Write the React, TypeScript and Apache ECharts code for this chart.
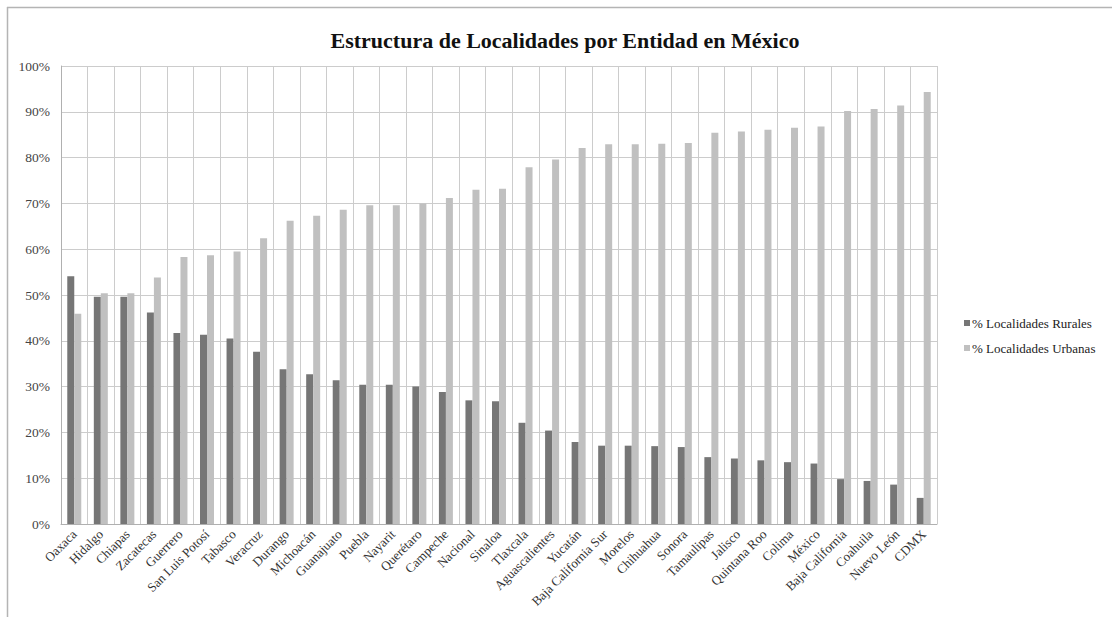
import React, { useEffect, useRef } from "react";
import * as echarts from "echarts";

const categories = [
  "Oaxaca", "Hidalgo", "Chiapas", "Zacatecas", "Guerrero", "San Luis Potosí", "Tabasco",
  "Veracruz", "Durango", "Michoacán", "Guanajuato", "Puebla", "Nayarit", "Querétaro",
  "Campeche", "Nacional", "Sinaloa", "Tlaxcala", "Aguascalientes", "Yucatán",
  "Baja California Sur", "Morelos", "Chihuahua", "Sonora", "Tamaulipas", "Jalisco",
  "Quintana Roo", "Colima", "México", "Baja California", "Coahuila", "Nuevo León", "CDMX",
];

const rurales = [
  54.1, 49.6, 49.6, 46.2, 41.7, 41.3, 40.5, 37.6, 33.8, 32.7, 31.4, 30.4, 30.4, 30.0,
  28.8, 27.0, 26.8, 22.1, 20.4, 17.9, 17.1, 17.1, 17.0, 16.8, 14.6, 14.3, 13.9, 13.5,
  13.2, 9.8, 9.4, 8.6, 5.7,
];

const urbanas = [
  45.9, 50.4, 50.4, 53.8, 58.3, 58.7, 59.5, 62.4, 66.2, 67.3, 68.6, 69.6, 69.6, 70.0,
  71.2, 73.0, 73.2, 77.9, 79.6, 82.1, 82.9, 82.9, 83.0, 83.2, 85.4, 85.7, 86.1, 86.5,
  86.8, 90.2, 90.6, 91.4, 94.3,
];

const seriesNames = ["% Localidades Rurales", "% Localidades Urbanas"];
const seriesColors = ["#767676", "#c0c0c0"];
const title = "Estructura de Localidades por Entidad en México";

const serif = "Liberation Serif";

export default function App() {
  const ref = useRef<HTMLDivElement>(null);
  useEffect(() => {
    if (!ref.current) return;
    const chart = echarts.init(ref.current, undefined, { renderer: "svg" });
    chart.setOption({
      animation: false,
      backgroundColor: "#ffffff",
      textStyle: { fontFamily: serif },
      title: {
        text: title,
        left: 560,
        textAlign: "center",
        top: 24,
        textStyle: { fontFamily: serif, fontSize: 22, fontWeight: "bold", color: "#111" },
      },
      legend: { show: false, data: seriesNames },
      grid: { left: 61, right: 175, top: 66, bottom: 93, containLabel: false },
      xAxis: {
        type: "category",
        data: categories,
        axisLine: { show: true, lineStyle: { color: "#b0b0b0", width: 1 } },
        axisTick: { show: false },
        splitLine: { show: true, lineStyle: { color: "#cccccc", width: 1 } },
        axisLabel: {
          interval: 0,
          rotate: 45,
          margin: 8,
          fontFamily: serif,
          fontSize: 13,
          color: "#333",
        },
      },
      yAxis: {
        type: "value",
        min: 0,
        max: 100,
        interval: 10,
        axisLine: { show: true, lineStyle: { color: "#b0b0b0", width: 1 } },
        axisTick: { show: false },
        splitLine: { show: true, lineStyle: { color: "#cccccc", width: 1 } },
        axisLabel: {
          formatter: "{value}%",
          fontFamily: serif,
          fontSize: 13.5,
          color: "#444",
          margin: 11,
        },
      },
      series: [
        {
          name: seriesNames[0],
          type: "bar",
          data: rurales,
          barWidth: 7,
          barGap: "0%",
          itemStyle: { color: seriesColors[0] },
        },
        {
          name: seriesNames[1],
          type: "bar",
          data: urbanas,
          barWidth: 7,
          barGap: "0%",
          itemStyle: { color: seriesColors[1] },
        },
      ],
      graphic: [
        {
          type: "line",
          shape: { x1: 7, y1: 7.5, x2: 1112, y2: 7.5 },
          style: { stroke: "#b4b4b4", lineWidth: 1.5 },
          silent: true,
        },
        {
          type: "line",
          shape: { x1: 7.5, y1: 7, x2: 7.5, y2: 617 },
          style: { stroke: "#b4b4b4", lineWidth: 1.5 },
          silent: true,
        },
        ...seriesNames.flatMap((name, i) => [
          {
            type: "rect",
            shape: { x: 964, y: 320 + i * 25, width: 6, height: 6 },
            style: { fill: seriesColors[i] },
            silent: true,
          },
          {
            type: "text",
            x: 972,
            y: 323 + i * 25,
            style: {
              text: name,
              fontFamily: serif,
              fontSize: 13,
              fill: "#222",
              textVerticalAlign: "middle",
              verticalAlign: "middle",
            },
            silent: true,
          },
        ]),
      ],
    });
    return () => chart.dispose();
  }, []);
  return (
    <div
      ref={ref}
      style={{ position: "fixed", left: 0, top: 0, width: 1112, height: 617 }}
    />
  );
}
